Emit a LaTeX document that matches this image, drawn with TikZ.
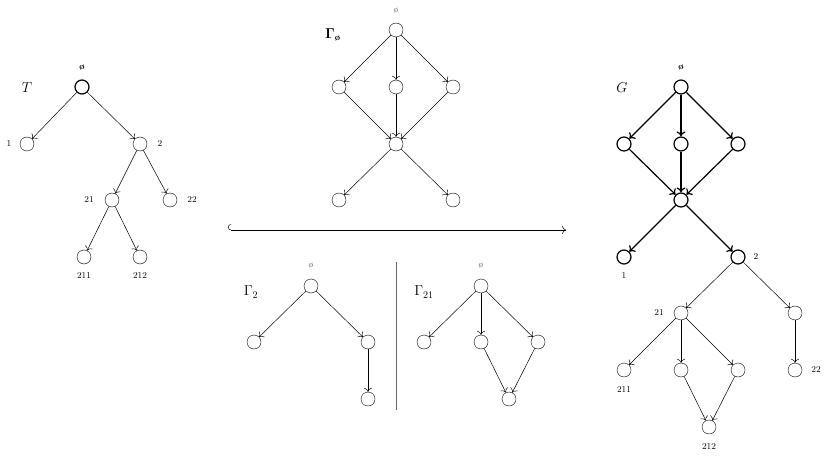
\documentclass[tikz,border=0pt]{standalone}
\usetikzlibrary{arrows.meta}
\begin{document}
\begin{tikzpicture}[x=1pt,y=-1pt,
  vtx/.style={circle,draw,inner sep=0pt,minimum size=14pt},
  bvtx/.style={vtx,line width=1.2pt},
  ed/.style={-{To[length=4pt,width=8pt]},line width=0.5pt},
  bed/.style={-{To[length=5pt,width=9pt]},line width=1.2pt},
  lab/.style={font=\small,inner sep=1pt},
  big/.style={font=\Large,inner sep=1pt}]
\useasboundingbox (0,0) rectangle (829,457);
% T
\node[bvtx] (t0) at (82,87) {};
\node[vtx] (t1) at (27,144) {};
\node[vtx] (t2) at (140,144) {};
\node[vtx] (t21) at (112,200) {};
\node[vtx] (t22) at (170,200) {};
\node[vtx] (t211) at (84,257) {};
\node[vtx] (t212) at (140,257) {};
\node[lab] (lt0) at (82,67) {\bfseries\o};
\node[lab] (lt1) at (9,144) {1};
\node[lab] (lt2) at (160,144) {2};
\node[lab] (lt21) at (89,200) {21};
\node[lab] (lt22) at (192,200) {22};
\node[lab] (lt211) at (84,276) {211};
\node[lab] (lt212) at (140,276) {212};
\node[big] (lT) at (27,88) {$T$};
\draw[ed] (t0)--(t1); \draw[ed] (t0)--(t2);
\draw[ed] (t2)--(t21); \draw[ed] (t2)--(t22);
\draw[ed] (t21)--(t211); \draw[ed] (t21)--(t212);
% Gamma_o
\node[vtx] (a0) at (396,30) {};
\node[vtx] (a1) at (339,87) {};
\node[vtx] (a2) at (396,87) {};
\node[vtx] (a3) at (453,87) {};
\node[vtx] (am) at (396,144) {};
\node[vtx] (a4) at (339,200) {};
\node[vtx] (a5) at (453,200) {};
\node[lab,text=gray!70!black] (la0) at (396,11) {\o};
\node[big] (lA) at (333,35) {$\mathbf{\Gamma}_{\mbox{\small\bfseries\o}}$};
\foreach \v in {a1,a2,a3}{\draw[ed] (a0)--(\v); \draw[ed] (\v)--(am);}
\draw[ed] (am)--(a4); \draw[ed] (am)--(a5);
% hook arrow
\coordinate (h1) at (228,230); \coordinate (h2) at (566,230);
\draw[line width=0.5pt,{Hooks[right,length=3pt]}-{To[length=4pt,width=8pt]}] (h1)--(h2);
% Gamma_2
\node[vtx] (b0) at (311,286) {};
\node[vtx] (b1) at (254,342) {};
\node[vtx] (b2) at (368,342) {};
\node[vtx] (b3) at (368,399) {};
\node[lab,text=gray!70!black] (lb0) at (311,266) {\o};
\node[big] (lB) at (251,292) {$\Gamma_2$};
\draw[ed] (b0)--(b1); \draw[ed] (b0)--(b2); \draw[ed] (b2)--(b3);
\coordinate (s1) at (396,262); \coordinate (s2) at (396,410);
\draw[gray!80!black,line width=0.7pt] (s1)--(s2);
% Gamma_21
\node[vtx] (c0) at (481,286) {};
\node[vtx] (c1) at (424,342) {};
\node[vtx] (c2) at (481,342) {};
\node[vtx] (c3) at (538,342) {};
\node[vtx] (c4) at (509,399) {};
\node[lab,text=gray!70!black] (lc0) at (481,266) {\o};
\node[big] (lC) at (424,292) {$\Gamma_{21}$};
\draw[ed] (c0)--(c1); \draw[ed] (c0)--(c2); \draw[ed] (c0)--(c3);
\draw[ed] (c2)--(c4); \draw[ed] (c3)--(c4);
% G
\node[bvtx] (g0) at (681,87) {};
\node[bvtx] (g1) at (624,144) {};
\node[bvtx] (g2) at (681,144) {};
\node[bvtx] (g3) at (738,144) {};
\node[bvtx] (gm) at (681,200) {};
\node[bvtx] (gA) at (624,257) {};
\node[bvtx] (gB) at (738,257) {};
\node[vtx] (g21) at (681,313) {};
\node[vtx] (gr) at (795,313) {};
\node[vtx] (g22) at (795,370) {};
\node[vtx] (gx1) at (624,370) {};
\node[vtx] (gx2) at (681,370) {};
\node[vtx] (gx3) at (738,370) {};
\node[vtx] (g212) at (709,427) {};
\node[lab] (lg0) at (681,67) {\bfseries\o};
\node[big] (lG) at (622,88) {$G$};
\node[lab] (lgA) at (624,276) {1};
\node[lab] (lgB) at (756,257) {2};
\node[lab] (lg21) at (659,313) {21};
\node[lab] (lg22) at (816,370) {22};
\node[lab] (lg211) at (624,389) {211};
\node[lab] (lg212) at (709,446) {212};
\foreach \v in {g1,g2,g3}{\draw[bed] (g0)--(\v); \draw[bed] (\v)--(gm);}
\draw[bed] (gm)--(gA); \draw[bed] (gm)--(gB);
\draw[ed] (gB)--(g21); \draw[ed] (gB)--(gr); \draw[ed] (gr)--(g22);
\draw[ed] (g21)--(gx1); \draw[ed] (g21)--(gx2); \draw[ed] (g21)--(gx3);
\draw[ed] (gx2)--(g212); \draw[ed] (gx3)--(g212);
\end{tikzpicture}
\end{document}
